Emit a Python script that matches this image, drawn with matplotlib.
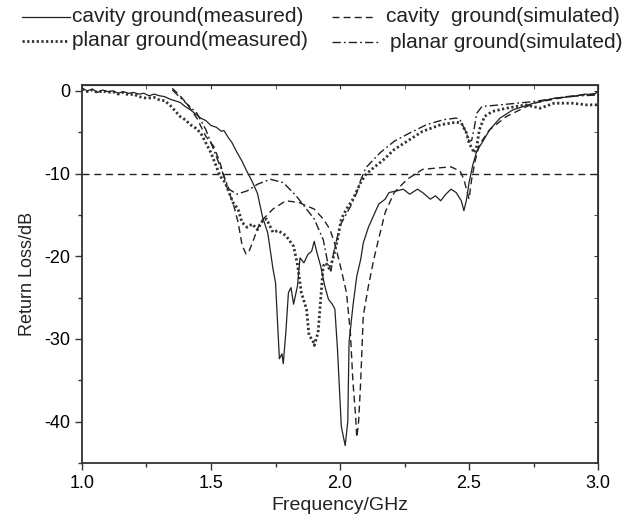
import numpy as np
import matplotlib
matplotlib.use("Agg")
import matplotlib.pyplot as plt
from matplotlib.lines import Line2D
from matplotlib.ticker import MultipleLocator

plt.rcParams['font.family'] = ['Liberation Sans', 'DejaVu Sans']
plt.rcParams['axes.unicode_minus'] = False

# cavity ground, measured (solid)
f_cm = [1.00, 1.02, 1.04, 1.06, 1.08, 1.10, 1.12, 1.14, 1.16, 1.18, 1.20, 1.22, 1.24, 1.26, 1.28,
        1.30, 1.32, 1.34, 1.36, 1.38, 1.40, 1.42, 1.44, 1.46, 1.48, 1.50, 1.52, 1.54, 1.55, 1.57,
        1.58, 1.60, 1.62, 1.64, 1.66, 1.68, 1.70, 1.72, 1.74, 1.75, 1.765, 1.775, 1.78, 1.79, 1.80,
        1.81, 1.82, 1.835, 1.845, 1.86, 1.875, 1.89, 1.90, 1.91, 1.925, 1.94, 1.955, 1.97, 1.98,
        1.99, 2.005, 2.02, 2.03, 2.035, 2.05, 2.065, 2.08, 2.09, 2.11, 2.13, 2.15, 2.175, 2.19,
        2.22, 2.245, 2.27, 2.30, 2.32, 2.35, 2.37, 2.39, 2.41, 2.43, 2.45, 2.47, 2.48, 2.49, 2.50,
        2.515, 2.53, 2.55, 2.58, 2.62, 2.67, 2.75, 2.83, 2.90, 2.95, 2.98, 3.00]
db_cm = [0.3, 0.0, 0.2, -0.2, 0.1, -0.1, 0.0, -0.3, -0.1, -0.3, -0.2, -0.4, -0.3, -0.6, -0.4,
         -0.6, -0.7, -1.0, -1.2, -1.4, -1.9, -2.3, -2.8, -3.3, -3.6, -4.2, -4.4, -4.9, -4.8, -5.8,
         -6.2, -7.4, -8.5, -9.8, -11.0, -12.4, -15.3, -17.2, -21.5, -23.2, -32.4, -31.8, -33.0, -29.2, -24.4,
         -23.8, -25.8, -23.6, -20.2, -20.8, -19.8, -19.4, -18.2, -19.5, -21.2, -23.5, -25.2, -25.8, -26.4,
         -31.2, -40.6, -42.9, -40.0, -30.4, -26.0, -22.4, -20.4, -18.4, -16.5, -15.1, -13.7, -13.1, -12.3,
         -12.1, -11.9, -12.5, -11.9, -12.3, -13.1, -12.7, -13.3, -12.5, -11.9, -12.3, -13.3, -14.5, -13.2, -11.1,
         -8.9, -7.3, -6.3, -4.7, -3.3, -2.3, -1.5, -0.9, -0.7, -0.4, -0.5, -0.1]

# cavity ground, simulated (dashed)
f_cs = [1.35, 1.38, 1.405, 1.445, 1.48, 1.51, 1.535, 1.56, 1.585, 1.605, 1.62, 1.635, 1.645, 1.66,
        1.69, 1.74, 1.79, 1.84, 1.90, 1.935, 1.96, 1.98, 2.00, 2.025, 2.04, 2.05, 2.06, 2.065, 2.072,
        2.08, 2.09, 2.11, 2.13, 2.145, 2.175, 2.21, 2.26, 2.32, 2.39, 2.43, 2.465, 2.48, 2.50, 2.51,
        2.525, 2.54, 2.58, 2.645, 2.75, 2.88, 3.00]
db_cs = [0.3, -0.6, -1.5, -3.3, -5.5, -6.7, -8.7, -11.5, -13.5, -15.9, -18.6, -19.7, -19.6, -18.4,
         -15.9, -14.3, -13.3, -13.5, -14.3, -15.5, -16.7, -18.5, -21.0, -24.4, -29.2, -35.2, -39.2, -41.9, -40.0,
         -35.2, -27.2, -23.6, -20.5, -18.5, -14.7, -12.3, -10.7, -9.5, -9.3, -9.2, -9.7, -10.7, -13.1, -10.7,
         -8.3, -6.5, -4.7, -3.1, -1.5, -0.7, -0.3]

# planar ground, measured (dotted)
f_pm = [1.00, 1.02, 1.04, 1.06, 1.08, 1.10, 1.12, 1.14, 1.16, 1.18, 1.20, 1.22, 1.25, 1.28, 1.30,
        1.32, 1.34, 1.36, 1.38, 1.40, 1.42, 1.44, 1.46, 1.48, 1.50, 1.51, 1.535, 1.555, 1.57, 1.585,
        1.605, 1.62, 1.64, 1.66, 1.68, 1.70, 1.715, 1.74, 1.76, 1.79, 1.82, 1.835, 1.85, 1.87, 1.88,
        1.895, 1.90, 1.915, 1.925, 1.935, 1.945, 1.96, 1.975, 1.99, 2.005, 2.025, 2.05, 2.08, 2.10,
        2.13, 2.17, 2.21, 2.26, 2.32, 2.39, 2.45, 2.47, 2.49, 2.50, 2.52, 2.53, 2.54, 2.56, 2.59,
        2.645, 2.72, 2.775, 2.83, 2.90, 2.955, 3.00]
db_pm = [0.2, -0.1, 0.1, -0.2, 0.0, -0.2, -0.1, -0.4, -0.2, -0.5, -0.4, -0.7, -0.9, -0.8, -1.1,
         -1.2, -1.7, -2.4, -3.1, -3.5, -4.1, -4.5, -5.1, -6.3, -7.5, -8.3, -10.3, -11.1, -12.3, -13.5,
         -14.3, -15.9, -16.5, -16.1, -16.8, -15.7, -15.5, -17.1, -16.9, -17.5, -18.8, -21.0, -24.4, -26.4, -29.6,
         -30.2, -30.8, -29.2, -25.2, -21.2, -20.8, -21.6, -20.0, -18.0, -15.5, -14.3, -13.1, -11.1, -10.1,
         -9.3, -8.3, -7.1, -6.1, -4.9, -4.1, -3.8, -3.9, -5.1, -6.3, -7.5, -6.7, -4.7, -3.1, -2.5,
         -2.1, -1.7, -2.1, -1.5, -1.5, -1.7, -1.7]

# planar ground, simulated (dash-dot)
f_ps = [1.35, 1.39, 1.445, 1.48, 1.52, 1.55, 1.57, 1.60, 1.64, 1.68, 1.73, 1.78, 1.83, 1.87, 1.90,
        1.935, 1.955, 1.965, 1.975, 2.00, 2.04, 2.065, 2.08, 2.10, 2.155, 2.21, 2.27, 2.335, 2.40,
        2.45, 2.465, 2.49, 2.50, 2.51, 2.52, 2.53, 2.55, 2.62, 2.75, 2.88, 3.00]
db_ps = [0.1, -1.1, -2.7, -4.7, -7.9, -10.3, -11.9, -12.5, -12.1, -11.3, -10.7, -11.1, -12.7, -14.3, -15.5,
         -18.0, -21.2, -21.8, -19.6, -16.3, -14.0, -12.3, -10.8, -9.3, -7.5, -6.1, -5.1, -4.1, -3.5,
         -3.3, -3.5, -5.1, -6.1, -6.0, -4.5, -2.7, -1.9, -1.7, -1.3, -0.7, -0.5]

labels = ["cavity ground(measured)", "cavity  ground(simulated)",
          "planar ground(measured)", "planar ground(simulated)"]
x_ticks = [1.0, 1.5, 2.0, 2.5, 3.0]
y_ticks = [0, -10, -20, -30, -40]
ref_level = -10

styles = {
    'cm': dict(color='#222222', lw=0.9, ls='-'),
    'cs': dict(color='#222222', lw=1.0, ls=(0, (5, 3))),
    'pm': dict(color='#333333', lw=2.0, ls=(0, (0.8, 0.9))),
    'ps': dict(color='#222222', lw=1.0, ls=(0, (6, 2.2, 1.3, 2.2))),
}

fig = plt.figure(figsize=(6.23, 5.29), dpi=100)
ax = fig.add_axes([0.1316, 0.1248, 0.8284, 0.7145])

ax.axhline(ref_level, color='#222222', lw=1.0, ls=(0, (5, 3.5)))
ax.plot(f_cs, db_cs, **styles['cs'])
ax.plot(f_ps, db_ps, **styles['ps'])
ax.plot(f_pm, db_pm, **styles['pm'])
ax.plot(f_cm, db_cm, **styles['cm'])

ax.set_xlim(1.0, 3.0)
ax.set_ylim(-45.0, 0.7)
ax.set_xticks(x_ticks)
ax.set_xticklabels([f"{v:.1f}" for v in x_ticks])
ax.set_yticks(y_ticks)
ax.set_yticklabels([str(v) for v in y_ticks])
ax.xaxis.set_minor_locator(MultipleLocator(0.25))
ax.yaxis.set_minor_locator(MultipleLocator(5))
ax.tick_params(which='both', direction='out', labelsize=13, color='#333333', width=1.0)
ax.tick_params(which='major', length=5)
ax.tick_params(which='minor', length=3)
for s in ax.spines.values():
    s.set_linewidth(1.3)
    s.set_color('#333333')

top = ax.secondary_xaxis('top')
top.set_xticks(x_ticks)
top.xaxis.set_minor_locator(MultipleLocator(0.25))
top.tick_params(which='both', direction='in', labeltop=False, length=3, color='#333333')
right = ax.secondary_yaxis('right')
right.set_yticks(y_ticks)
right.yaxis.set_minor_locator(MultipleLocator(5))
right.tick_params(which='both', direction='in', labelright=False, length=3, color='#333333')

ax.set_xlabel("Frequency/GHz", fontsize=14, color='#222222', labelpad=4)
ax.set_ylabel("Return Loss/dB", fontsize=13, color='#222222', labelpad=6)

# legend drawn above the axes, two rows
W, H = 623, 529
leg = [('cm', 22, 70, 17, 72, labels[0]),
       ('cs', 332, 376, 17, 386, labels[1]),
       ('pm', 22, 68, 41, 72, labels[2]),
       ('ps', 332, 378, 42, 390, labels[3])]
for key, x0, x1, yy, xt, txt in leg:
    fig.add_artist(Line2D([x0 / W, x1 / W], [1 - yy / H, 1 - yy / H], transform=fig.transFigure,
                          **styles[key]))
    fig.text(xt / W, 1 - yy / H, txt, fontsize=15, va='center', ha='left', color='#222222')

fig.savefig("out.png", dpi=100)
